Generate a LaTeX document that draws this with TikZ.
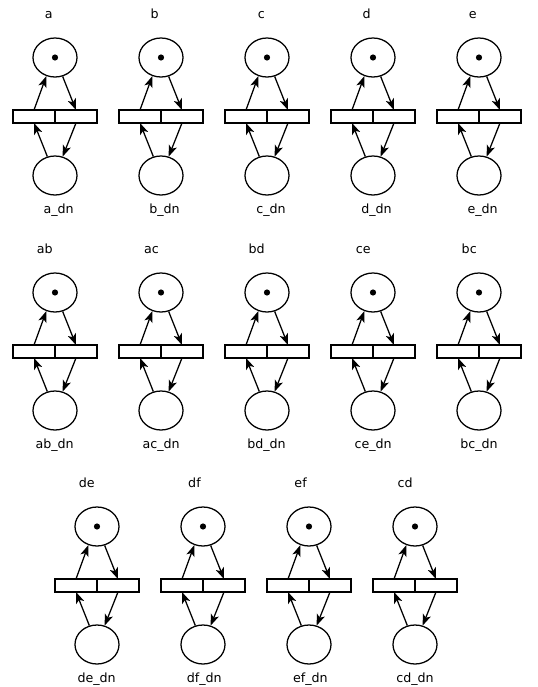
\documentclass[tikz,border=0pt]{standalone}
\usepackage{fontspec}
\setmainfont{DejaVu Sans}
\usetikzlibrary{arrows.meta,shapes.geometric}

\tikzset{
	place/.style={ellipse, draw, line width=0.9pt, minimum width=1.1cm, minimum height=0.975cm, inner sep=0pt},
	trans/.style={rectangle, draw, line width=1pt, minimum width=1.05cm, minimum height=0.325cm, inner sep=0pt, outer sep=0pt},
	token/.style={circle, fill, minimum size=4.4pt, inner sep=0pt},
	lbl/.style={font=\fontsize{9}{10}\selectfont, inner sep=0pt},
	arc/.style={->, line width=0.9pt}
}

% one place pair with its two transitions: #1 name, #2 x, #3 y (px)
\newcommand{\loopnet}[3]{%
	\node[place] (#1-up) at (#2,#3) {};
	\node[token] (#1-tok) at (#1-up) {};
	\node[trans, anchor=east] (#1-set) at (#2,#3+59) {};
	\node[trans, anchor=west] (#1-reset) at (#2,#3+59) {};
	\node[place] (#1-dn) at (#2,#3+118) {};
	\node[lbl, anchor=base east] (#1-lab) at (#2-2,#3-39) {#1};
	\node[lbl, anchor=base east] (#1-dnlab) at (#2+19,#3+156) {#1\_dn};
	\draw[arc] (#1-set.north) -- (#1-up.-115);
	\draw[arc] (#1-up.-68) -- (#1-reset.north);
	\draw[arc] (#1-reset.south) -- (#1-dn.68);
	\draw[arc] (#1-dn.112) -- (#1-set.south);
}

\begin{document}
\begin{tikzpicture}[x=0.025cm, y=-0.025cm, >={Stealth[length=8pt, width=6pt, inset=2pt]}]
	\useasboundingbox (0,0) rectangle (538,687);
	% first row
	\foreach \n [count=\i from 0] in {a,b,c,d,e}
		\loopnet{\n}{55+106*\i}{57.5};
	% second row
	\foreach \n [count=\i from 0] in {ab,ac,bd,ce,bc}
		\loopnet{\n}{55+106*\i}{292.5};
	% third row
	\foreach \n [count=\i from 0] in {de,df,ef,cd}
		\loopnet{\n}{97+106*\i}{526.5};
\end{tikzpicture}
\end{document}
